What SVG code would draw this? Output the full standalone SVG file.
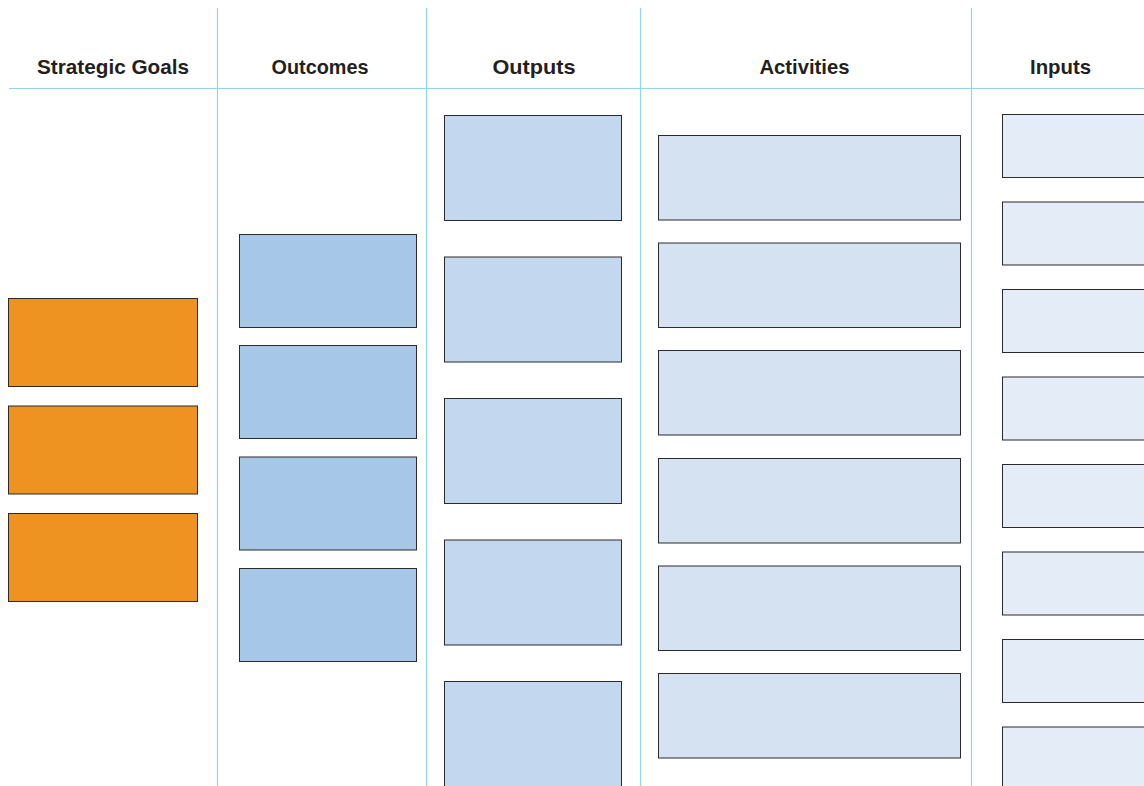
<svg xmlns="http://www.w3.org/2000/svg" width="1144" height="786" viewBox="0 0 1144 786">
<style>
.hdr{font-family:"Liberation Sans",Arial,sans-serif;font-weight:bold;font-size:20.5px;fill:#231f20;text-anchor:middle}
.grid{stroke:#8fd5f2;stroke-width:1.2;fill:none}
.box{stroke:#2b2b2b;stroke-width:1}
.goal{fill:#ee9322}
.outc{fill:#a7c7e9}
.outp{fill:#c3d8ef}
.act{fill:#d5e2f2}
.inp{fill:#e4ecf7}
</style>
<rect width="1144" height="786" fill="#ffffff"/>
<g id="connectors">
<line class="grid" x1="9" y1="88.5" x2="1144" y2="88.5"/>
<line class="grid" x1="217.5" y1="8" x2="217.5" y2="786"/>
<line class="grid" x1="426.5" y1="8" x2="426.5" y2="786"/>
<line class="grid" x1="640.5" y1="8" x2="640.5" y2="786"/>
<line class="grid" x1="971.5" y1="8" x2="971.5" y2="786"/>
</g>
<g id="headers">
<text class="hdr" x="113" y="74" textLength="152" lengthAdjust="spacingAndGlyphs">Strategic Goals</text>
<text class="hdr" x="320" y="74" textLength="97" lengthAdjust="spacingAndGlyphs">Outcomes</text>
<text class="hdr" x="534" y="74" textLength="83" lengthAdjust="spacingAndGlyphs">Outputs</text>
<text class="hdr" x="804.5" y="74" textLength="90" lengthAdjust="spacingAndGlyphs">Activities</text>
<text class="hdr" x="1060.5" y="74" textLength="61" lengthAdjust="spacingAndGlyphs">Inputs</text>
</g>
<g id="goal-1"><rect class="box goal" x="8.5" y="298.5" width="189" height="88"/></g>
<g id="goal-2"><rect class="box goal" x="8.5" y="406" width="189" height="88"/></g>
<g id="goal-3"><rect class="box goal" x="8.5" y="513.5" width="189" height="88"/></g>
<g id="outcome-1"><rect class="box outc" x="239.5" y="234.5" width="177" height="93"/></g>
<g id="outcome-2"><rect class="box outc" x="239.5" y="345.5" width="177" height="93"/></g>
<g id="outcome-3"><rect class="box outc" x="239.5" y="457" width="177" height="93"/></g>
<g id="outcome-4"><rect class="box outc" x="239.5" y="568.5" width="177" height="93"/></g>
<g id="output-1"><rect class="box outp" x="444.5" y="115.5" width="177" height="105"/></g>
<g id="output-2"><rect class="box outp" x="444.5" y="257" width="177" height="105"/></g>
<g id="output-3"><rect class="box outp" x="444.5" y="398.5" width="177" height="105"/></g>
<g id="output-4"><rect class="box outp" x="444.5" y="540" width="177" height="105"/></g>
<g id="output-5"><rect class="box outp" x="444.5" y="681.5" width="177" height="120"/></g>
<g id="activity-1"><rect class="box act" x="658.5" y="135.5" width="302" height="84.5"/></g>
<g id="activity-2"><rect class="box act" x="658.5" y="243" width="302" height="84.5"/></g>
<g id="activity-3"><rect class="box act" x="658.5" y="350.5" width="302" height="84.5"/></g>
<g id="activity-4"><rect class="box act" x="658.5" y="458.5" width="302" height="84.5"/></g>
<g id="activity-5"><rect class="box act" x="658.5" y="566" width="302" height="84.5"/></g>
<g id="activity-6"><rect class="box act" x="658.5" y="673.5" width="302" height="84.5"/></g>
<g id="input-1"><rect class="box inp" x="1002.5" y="114.5" width="160" height="63"/></g>
<g id="input-2"><rect class="box inp" x="1002.5" y="202" width="160" height="63"/></g>
<g id="input-3"><rect class="box inp" x="1002.5" y="289.5" width="160" height="63"/></g>
<g id="input-4"><rect class="box inp" x="1002.5" y="377" width="160" height="63"/></g>
<g id="input-5"><rect class="box inp" x="1002.5" y="464.5" width="160" height="63"/></g>
<g id="input-6"><rect class="box inp" x="1002.5" y="552" width="160" height="63"/></g>
<g id="input-7"><rect class="box inp" x="1002.5" y="639.5" width="160" height="63"/></g>
<g id="input-8"><rect class="box inp" x="1002.5" y="727" width="160" height="70"/></g>
</svg>
